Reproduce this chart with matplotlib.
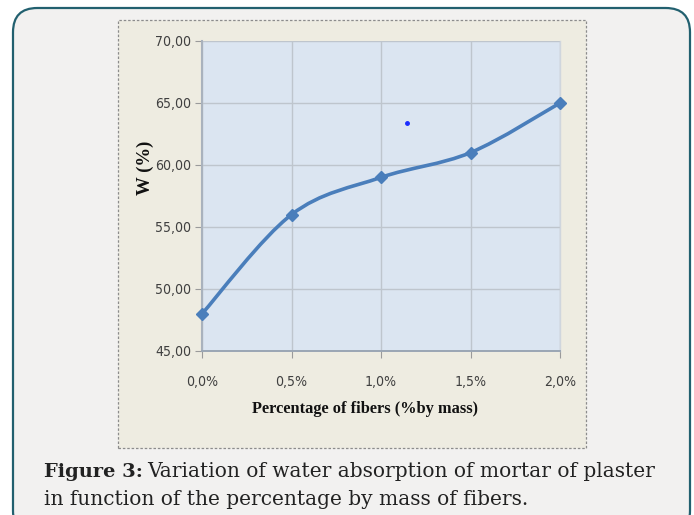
import numpy as np
import matplotlib
matplotlib.use("Agg")
import matplotlib.pyplot as plt
from matplotlib.path import Path
from matplotlib.patches import PathPatch, FancyBboxPatch, Rectangle
from matplotlib.ticker import FixedLocator, FixedFormatter
import matplotlib.font_manager as fm

# ---- data ----
fiber_pct = [0.0, 0.5, 1.0, 1.5, 2.0]
x_tick_labels = ["0,0%", "0,5%", "1,0%", "1,5%", "2,0%"]
water_abs = [48.0, 56.0, 59.0, 61.0, 65.0]
y_ticks = [45, 50, 55, 60, 65, 70]
y_tick_labels = ["45,00", "50,00", "55,00", "60,00", "65,00", "70,00"]
stray_x = [1.145]
stray_y = [63.4]

W, H = 694, 515
fig = plt.figure(figsize=(W / 100, H / 100), dpi=100)
fig.patch.set_facecolor("white")

# outer rounded frame
frame = FancyBboxPatch((13 / W, -20 / H), (690 - 13) / W, (507 + 20) / H,
                       boxstyle="round,pad=0,rounding_size=0.035",
                       transform=fig.transFigure, facecolor="#f2f1f0",
                       edgecolor="#22606f", linewidth=1.6, mutation_aspect=W / H,
                       zorder=-2)
fig.patches.append(frame)

# chart area
chart = Rectangle((118 / W, (H - 448) / H), (586 - 118) / W, (448 - 20) / H,
                  transform=fig.transFigure, facecolor="#eeece1",
                  edgecolor="#8c8c8c", linewidth=0.9, linestyle=(0, (2, 1.5)),
                  zorder=-1)
fig.patches.append(chart)

# condensed sans for tick labels, if available
cond = [f for f in fm.fontManager.ttflist
        if "condensed" in f.fname.lower() or "narrow" in f.fname.lower()]
cond_regular = [f for f in cond if "bold" not in f.fname.lower()
                and "oblique" not in f.fname.lower() and "italic" not in f.fname.lower()]
if cond_regular:
    tick_fp = fm.FontProperties(fname=cond_regular[0].fname, size=10.1)
else:
    tick_fp = fm.FontProperties(family="DejaVu Sans", size=9)

ax = fig.add_axes([202 / W, (H - 351) / H, 358 / W, 310 / H])
ax.set_zorder(2)
ax.set_facecolor("#dbe5f1")
ax.set_xlim(0, 2.0)
ax.set_ylim(45, 70)

ax.xaxis.set_major_locator(FixedLocator(fiber_pct))
ax.xaxis.set_major_formatter(FixedFormatter(x_tick_labels))
ax.yaxis.set_major_locator(FixedLocator(y_ticks))
ax.yaxis.set_major_formatter(FixedFormatter(y_tick_labels))
ax.grid(True, color="#bec5cd", linewidth=1.0)
ax.set_axisbelow(True)
ax.spines["top"].set_visible(False)
ax.spines["right"].set_color("#d0d6dd")
ax.spines["right"].set_linewidth(1.0)
ax.spines["left"].set_color("#a9b2bd")
ax.spines["left"].set_linewidth(1.5)
ax.spines["bottom"].set_color("#9aa6b4")
ax.spines["bottom"].set_linewidth(1.4)
ax.tick_params(axis="both", direction="out", length=5, color="#9a9a9a",
               labelcolor="#404040")
ax.tick_params(axis="x", pad=12)
ax.tick_params(axis="y", pad=3)
for lab in ax.get_xticklabels() + ax.get_yticklabels():
    lab.set_fontproperties(tick_fp)

# smoothed line (Catmull-Rom -> cubic Bezier, like Excel smoothing)
px = np.array(fiber_pct, dtype=float)
py = np.array(water_abs, dtype=float)
pts = np.column_stack([px, py])
verts = [tuple(pts[0])]
codes = [Path.MOVETO]
n = len(pts)
for i in range(n - 1):
    p0 = pts[i - 1] if i > 0 else pts[i]
    p1 = pts[i]
    p2 = pts[i + 1]
    p3 = pts[i + 2] if i + 2 < n else pts[i + 1]
    c1 = p1 + (p2 - p0) / 6.0
    c2 = p2 - (p3 - p1) / 6.0
    verts += [tuple(c1), tuple(c2), tuple(p2)]
    codes += [Path.CURVE4] * 3
ax.add_patch(PathPatch(Path(verts, codes), facecolor="none",
                       edgecolor="#4a7ebb", linewidth=2.6, zorder=3,
                       capstyle="round", joinstyle="round"))
ax.plot(fiber_pct, water_abs, linestyle="none", marker="D", markersize=6.5,
        color="#4a7ebb", zorder=4, clip_on=False)
ax.plot(stray_x, stray_y, linestyle="none", marker="o", markersize=2.5,
        color="#1a2cff", zorder=4)

ax.set_xlabel("Percentage of fibers (%by mass)", family="Liberation Serif",
              fontweight="bold", fontsize=11.8, color="#111111")
ax.xaxis.set_label_coords((365 - 202) / 358, -(409 - 351) / 310)
ax.xaxis.label.set_va("center")
ax.set_ylabel("W (%)", family="Liberation Serif", fontweight="bold",
              fontsize=13.5, color="#111111")
ax.yaxis.set_label_coords((145 - 202) / 358, (351 - 168) / 310)
ax.yaxis.label.set_va("center")

# caption
cap_font = "DejaVu Serif"
fig.text(44 / W, 1 - 477 / H, "Figure 3:", family=cap_font,
         fontweight="bold", fontsize=14, color="#222222", va="baseline")
fig.text(147 / W, 1 - 477 / H, "Variation of water absorption of mortar of plaster",
         family=cap_font, fontsize=14.5, color="#222222", va="baseline")
fig.text(44 / W, 1 - 505 / H, "in function of the percentage by mass of fibers.",
         family=cap_font, fontsize=14.5, color="#222222", va="baseline")

fig.savefig("out.png", dpi=100, facecolor=fig.get_facecolor())
